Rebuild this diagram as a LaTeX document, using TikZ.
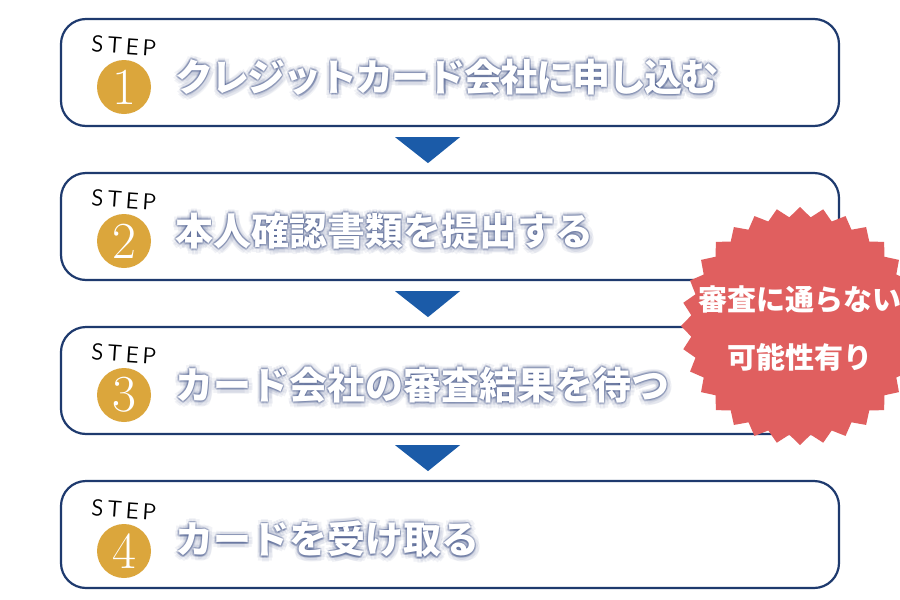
\documentclass[tikz,border=0pt]{standalone}
\usepackage{fontspec}
\usetikzlibrary{calc,shapes.geometric}
\newfontfamily\jpfont{Noto Sans CJK JP}
\definecolor{navy}{HTML}{1E3A6E}
\definecolor{arrowblue}{HTML}{1B5BA8}
\definecolor{gold}{HTML}{DBA63C}
\definecolor{burstred}{HTML}{E05F5F}
\definecolor{shadowblue}{HTML}{3C4F85}
\tikzset{
	stepbox/.style={draw=navy, line width=2.2pt, rounded corners=25pt, fill=white, minimum width=778pt, minimum height=107pt},
	stepnum/.style={circle, fill=gold, minimum size=54pt, inner sep=0pt, text=white, font=\rmfamily\fontsize{52}{52}\selectfont},
	steptag/.style={font=\sffamily\fontsize{23}{23}\selectfont, rotate=-4},
	steptext/.style={anchor=west, inner sep=0pt, text=white, font=\jpfont\bfseries\fontsize{38}{38}\selectfont},
	glowcopy/.style={anchor=west, inner sep=0pt, text=shadowblue, font=\jpfont\bfseries\fontsize{38}{38}\selectfont},
}
\def\glowat(#1)#2{%
	\foreach \dx/\dy in {5/2,-4/2,1/6,0/-4,4/5,4/-3,-3/5,-3/-3}{\node[glowcopy, opacity=0.07] at ($(#1)+(\dx,\dy)$) {#2};}
	\foreach \dx/\dy in {1.5/0.5,-1.5/0.5,0.5/2,0/-1.5,1.5/1.5,1.2/-1,-1/1.5,-1/-1}{\node[glowcopy, opacity=0.2] at ($(#1)+(\dx,\dy)$) {#2};}}

\begin{document}
\begin{tikzpicture}[x=1pt,y=-1pt]
			%%%%% START %%%%%
			
			\fill[white] (0,0) rectangle (900,600);
			\useasboundingbox (0,0) rectangle (900,600);
			
			% step 1
			\node[stepbox] (step1) at (450, 72.5) {};
			\node[steptag] (tag1) at (124, 46) {S\,T\,E\,P};
			\node[stepnum] (num1) at (124, 87) {1};
			\glowat(175, 77){\addfontfeature{LetterSpace=-5}クレジットカード会社に申し込む}
			\node[steptext] (text1) at (175, 77) {\addfontfeature{LetterSpace=-5}クレジットカード会社に申し込む};
			
			% step 2
			\node[stepbox] (step2) at (450, 226.5) {};
			\node[steptag] (tag2) at (124, 200) {S\,T\,E\,P};
			\node[stepnum] (num2) at (124, 241) {2};
			\glowat(175, 231){本人確認書類を提出する}
			\node[steptext] (text2) at (175, 231) {本人確認書類を提出する};
			
			% step 3
			\node[stepbox] (step3) at (450, 380.5) {};
			\node[steptag] (tag3) at (124, 354) {S\,T\,E\,P};
			\node[stepnum] (num3) at (124, 395) {3};
			\glowat(175, 385){カード会社の審査結果を待つ}
			\node[steptext] (text3) at (175, 385) {カード会社の審査結果を待つ};
			
			% step 4
			\node[stepbox] (step4) at (450, 534.5) {};
			\node[steptag] (tag4) at (124, 510) {S\,T\,E\,P};
			\node[stepnum] (num4) at (124, 551) {4};
			\glowat(175, 539){カードを受け取る}
			\node[steptext] (text4) at (175, 539) {カードを受け取る};
			
			% arrows
			\fill[arrowblue] ($(step1.south)+(-55,10)$) -- ($(step1.south)+(10,10)$) -- ($(step1.south)+(-22,36)$) -- cycle;
			\fill[arrowblue] ($(step2.south)+(-55,10)$) -- ($(step2.south)+(10,10)$) -- ($(step2.south)+(-22,36)$) -- cycle;
			\fill[arrowblue] ($(step3.south)+(-55,10)$) -- ($(step3.south)+(10,10)$) -- ($(step3.south)+(-22,36)$) -- cycle;
			
			% burst
			\node[star, star points=32, star point ratio=1.09, minimum size=238pt, inner sep=0pt, fill=burstred] (burst) at (800, 326) {};
			\node[align=center, text=white, font=\jpfont\bfseries\fontsize{29}{58}\selectfont] (bursttext) at ($(burst.center)+(0,3)$) {審査に通らない\\可能性有り};
			
			%%%%% END %%%%%
		\end{tikzpicture}
\end{document}
